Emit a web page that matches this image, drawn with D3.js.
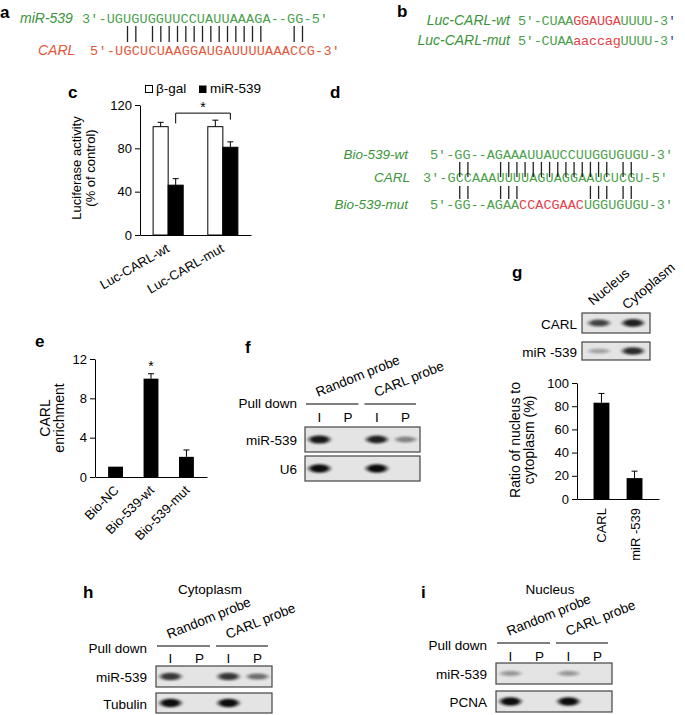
<!DOCTYPE html>
<html>
<head>
<meta charset="utf-8">
<script src="https://cdn.jsdelivr.net/npm/d3@7"></script>
<style>
  body { margin: 0; background: #fff; }
  svg { font-family: Arial, "Liberation Sans", sans-serif; }
</style>
</head>
<body>
<svg id="fig" width="685" height="715"></svg>
<script>
// ---------- data ----------
// panel a: miR-539 / CARL pairing
const seqAMiR = "3′-UGUGUGGUUCCUAUUAAAGA--GG-5′";
const seqACarl = "5′-UGCUCUAAGGAUGAUUUUAAACCG-3′";
const pairsA = [4, 5, 7, 8, 9, 10, 11, 12, 13, 14, 15, 16, 17, 18, 19, 20, 24, 25];

// panel b: luciferase constructs
const seqBWt = "5′-CUAAGGAUGAUUUU-3′";
const seqBMut = "5′-CUAAaaccagUUUU-3′";
const siteB = [7, 12];

// panel c: luciferase activity
const lucGroups = ["Luc-CARL-wt", "Luc-CARL-mut"];
const lucSeries = ["β-gal", "miR-539"];
const lucBgal = [100, 100];
const lucBgalErr = [4, 6];
const lucMiR = [46, 81];
const lucMiRErr = [6, 5];
const lucTicks = [0, 40, 80, 120];
const lucSig = { top: 112.5, legs: [103, 106.5] };

// panel d: biotin probes
const seqDWt = "5′-GG--AGAAAUUAUCCUUGGUGUGU-3′";
const seqDCarl = "3′-GCCAAAUUUUAGUAGGAAUCUCGU-5′";
const seqDMut = "5′-GG--AGAACCACGAACUGGUGUGU-3′";
const mutD = [11, 18];
const pairsDTop = [4, 5, 9, 10, 11, 12, 13, 14, 15, 16, 17, 18, 19, 20, 21, 22, 24, 25];
const pairsDBot = [4, 5, 9, 10, 11, 20, 21, 22, 24, 25];

// panel e: CARL enrichment
const bioCats = ["Bio-NC", "Bio-539-wt", "Bio-539-mut"];
const bioValues = [1.05, 10, 2.05];
const bioErr = [0, 0.5, 0.7];
const bioTicks = [0, 4, 8, 12];

// panel g: nucleus / cytoplasm
const fracLanes = ["Nucleus", "Cytoplasm"];
const locCats = ["CARL", "miR -539"];
const locValues = [83, 18];
const locErr = [8, 6];
const locTicks = [0, 20, 40, 60, 80, 100];

// blots: band intensity per lane (0 = none, 1 = saturated)
const laneLabels = ["I", "P", "I", "P"];
const probeLabels = ["Random probe", "CARL probe"];
const blotF = [
  { name: "miR-539", bands: [0.95, 0, 0.9, 0.45] },
  { name: "U6", bands: [1, 0, 1, 0] }
];
const blotG = [
  { name: "CARL", bands: [0.75, 0.9] },
  { name: "miR -539", bands: [0.3, 0.85] }
];
const blotH = [
  { name: "miR-539", bands: [0.8, 0, 0.8, 0.55] },
  { name: "Tubulin", bands: [1, 0, 1, 0] }
];
const blotI = [
  { name: "miR-539", bands: [0.35, 0, 0.35, 0] },
  { name: "PCNA", bands: [1, 0, 1, 0] }
];

// ---------- setup ----------
const svg = d3.select("#fig");
const defs = svg.append("defs");
defs.append("filter").attr("id", "band-blur")
  .attr("x", "-50%").attr("y", "-150%").attr("width", "200%").attr("height", "400%")
  .append("feGaussianBlur").attr("stdDeviation", "2 1.3");

const green = "#3a943a";
const seqGreen = "#4c9f4c";
const red = "#e5404a";
const orange = "#e2573a";
const mono = "'Liberation Mono', 'DejaVu Sans Mono', monospace";

function panelLabel(ch, x, y) {
  svg.append("text").attr("x", x).attr("y", y)
    .attr("font-size", 17).attr("font-weight", "bold").text(ch);
}

function label(txt, x, y, opts = {}) {
  return svg.append("text").attr("x", x).attr("y", y)
    .attr("font-size", opts.size || 13.5)
    .attr("font-style", opts.italic ? "italic" : null)
    .attr("text-anchor", opts.anchor || "start")
    .attr("fill", opts.color || "#000")
    .text(txt);
}

// one text per character so pair lines line up with the letters
function drawSeq(str, x0, x1, y, colorAt) {
  const chars = Array.from(str);
  const sx = d3.scaleBand().domain(d3.range(chars.length)).range([x0, x1]);
  svg.append("g").selectAll("text").data(chars).join("text")
    .attr("x", (d, i) => sx(i) + sx.bandwidth() / 2)
    .attr("y", y)
    .attr("text-anchor", "middle")
    .attr("font-family", mono)
    .attr("font-size", 13.5)
    .attr("fill", (d, i) => colorAt(i))
    .text(d => d);
  return sx;
}

function drawPairs(sx, idx, y1, y2) {
  svg.append("g").selectAll("line").data(idx).join("line")
    .attr("x1", i => sx(i) + sx.bandwidth() / 2)
    .attr("x2", i => sx(i) + sx.bandwidth() / 2)
    .attr("y1", y1).attr("y2", y2)
    .attr("stroke", "#222").attr("stroke-width", 1.3);
}

function styleAxis(g) {
  g.attr("font-family", "Arial, 'Liberation Sans', sans-serif").attr("font-size", 13);
  g.selectAll("path, line").attr("stroke", "#000").attr("stroke-width", 1);
  g.selectAll("text").attr("fill", "#000");
}

function errorBar(g, x, yTop, yEnd) {
  g.append("line").attr("x1", x).attr("x2", x).attr("y1", yTop).attr("y2", yEnd).attr("stroke", "#000");
  g.append("line").attr("x1", x - 3).attr("x2", x + 3).attr("y1", yEnd).attr("y2", yEnd).attr("stroke", "#000");
}

function drawBands(g, rows, lanes, x, w, rowY, rowH) {
  rows.forEach((r, k) => {
    g.append("rect").attr("x", x).attr("y", rowY[k]).attr("width", w).attr("height", rowH[k])
      .attr("fill", "#e4e4e4").attr("stroke", "#444").attr("stroke-width", 1.2);
    g.append("g").selectAll("ellipse").data(r.bands).join("ellipse")
      .attr("cx", (d, i) => lanes(i))
      .attr("cy", rowY[k] + rowH[k] / 2)
      .attr("rx", 10.5)
      .attr("ry", d => 1.8 + 2.4 * d)
      .attr("fill", "#111")
      .attr("opacity", d => d)
      .attr("filter", "url(#band-blur)");
  });
}

// ---------- a ----------
panelLabel("a", 0, 18);
label("miR-539", 20, 23, { italic: true, color: green, size: 14 });
drawSeq(seqAMiR, 82, 328, 23, () => seqGreen);
label("CARL", 38, 55, { italic: true, color: orange, size: 14 });
const sxA = drawSeq(seqACarl, 90, 340, 55, () => orange);
drawPairs(sxA, pairsA, 26, 42);

// ---------- b ----------
panelLabel("b", 397, 17);
label("Luc-CARL-wt", 510, 25, { italic: true, color: green, anchor: "end", size: 14 });
label("Luc-CARL-mut", 510, 45, { italic: true, color: green, anchor: "end", size: 14 });
[seqBWt, seqBMut].forEach((s, r) => {
  const n = Array.from(s).length;
  drawSeq(s, 518, 676, 25 + 20 * r, i =>
    i >= siteB[0] && i <= siteB[1] ? red : (i === n - 1 ? "#2a40a0" : seqGreen));
});

// ---------- c ----------
panelLabel("c", 68, 98);
const cX = d3.scaleBand().domain(lucGroups).range([140, 251]).paddingInner(0.45).paddingOuter(0.24);
const cSub = d3.scaleBand().domain(lucSeries).range([0, cX.bandwidth()]);
const cY = d3.scaleLinear().domain([0, 120]).range([235, 105]);
const cG = svg.append("g");
const lucRows = lucGroups.flatMap((g, i) => [
  { g, s: lucSeries[0], v: lucBgal[i], e: lucBgalErr[i] },
  { g, s: lucSeries[1], v: lucMiR[i], e: lucMiRErr[i] }
]);
lucRows.forEach(d => {
  const cx = cX(d.g) + cSub(d.s) + cSub.bandwidth() / 2;
  errorBar(cG, cx, cY(d.v), cY(d.v + d.e));
});
cG.selectAll("rect.bar").data(lucRows).join("rect").attr("class", "bar")
  .attr("x", d => cX(d.g) + cSub(d.s))
  .attr("y", d => cY(d.v))
  .attr("width", cSub.bandwidth())
  .attr("height", d => cY(0) - cY(d.v))
  .attr("fill", d => d.s === lucSeries[0] ? "#fff" : "#000")
  .attr("stroke", "#000").attr("stroke-width", 1);
cG.append("g").attr("transform", "translate(140,0)")
  .call(d3.axisLeft(cY).tickValues(lucTicks).tickSize(5).tickSizeOuter(0))
  .call(styleAxis);
cG.append("g").attr("transform", "translate(0,235)")
  .call(d3.axisBottom(cX).tickSize(0).tickSizeOuter(0))
  .call(styleAxis)
  .selectAll("text")
  .attr("x", 0).attr("y", 0).attr("dy", 0)
  .attr("text-anchor", "end")
  .attr("transform", "translate(2,16) rotate(-30)");
// significance bracket between the miR-539 bars
const sigX = lucGroups.map(g => cX(g) + cSub(lucSeries[1]) + cSub.bandwidth() / 2);
cG.append("path")
  .attr("d", `M${sigX[0]},${cY(lucSig.legs[0])}V${cY(lucSig.top)}H${sigX[1]}V${cY(lucSig.legs[1])}`)
  .attr("fill", "none").attr("stroke", "#000");
label("*", (sigX[0] + sigX[1]) / 2, cY(lucSig.top) - 1, { anchor: "middle", size: 14 });
// legend
cG.append("rect").attr("x", 145.5).attr("y", 85.5).attr("width", 7).attr("height", 7)
  .attr("fill", "#fff").attr("stroke", "#000");
label(lucSeries[0], 156, 93, { size: 13.5 });
cG.append("rect").attr("x", 199).attr("y", 85.5).attr("width", 7.5).attr("height", 7.5).attr("fill", "#000");
label(lucSeries[1], 210, 93, { size: 13.5 });
// y title
svg.append("text").attr("transform", "translate(81,168) rotate(-90)")
  .attr("text-anchor", "middle").attr("font-size", 13).text("Luciferase activity");
svg.append("text").attr("transform", "translate(95,168) rotate(-90)")
  .attr("text-anchor", "middle").attr("font-size", 13).text("(% of control)");

// ---------- d ----------
panelLabel("d", 330, 98);
label("Bio-539-wt", 408, 159, { italic: true, color: green, anchor: "end" });
label("CARL", 410, 182, { italic: true, color: green, anchor: "end" });
label("Bio-539-mut", 408, 209, { italic: true, color: green, anchor: "end" });
drawSeq(seqDWt, 430, 673, 159, () => seqGreen);
const sxD = drawSeq(seqDCarl, 423, 668, 182, () => seqGreen);
drawSeq(seqDMut, 430, 673, 209, i => i >= mutD[0] && i <= mutD[1] ? red : seqGreen);
drawPairs(sxD, pairsDTop, 162, 177);
drawPairs(sxD, pairsDBot, 186, 199);

// ---------- e ----------
panelLabel("e", 35, 347);
const eX = d3.scaleBand().domain(bioCats).range([95, 207]).paddingInner(0.58).paddingOuter(0.37);
const eY = d3.scaleLinear().domain([0, 12]).range([477, 359]);
const eG = svg.append("g");
bioCats.forEach((c, i) => {
  if (bioErr[i] > 0) errorBar(eG, eX(c) + eX.bandwidth() / 2, eY(bioValues[i]), eY(bioValues[i] + bioErr[i]));
});
eG.selectAll("rect").data(bioCats).join("rect")
  .attr("x", d => eX(d)).attr("width", eX.bandwidth())
  .attr("y", (d, i) => eY(bioValues[i]))
  .attr("height", (d, i) => eY(0) - eY(bioValues[i]))
  .attr("fill", "#000");
eG.append("g").attr("transform", "translate(95,0)")
  .call(d3.axisLeft(eY).tickValues(bioTicks).tickSize(5).tickSizeOuter(0))
  .call(styleAxis);
eG.append("g").attr("transform", "translate(0,477)")
  .call(d3.axisBottom(eX).tickSize(0).tickSizeOuter(0))
  .call(styleAxis)
  .selectAll("text")
  .attr("x", 0).attr("y", 0).attr("dy", 0)
  .attr("text-anchor", "end")
  .attr("transform", "translate(4,14) rotate(-45)");
label("*", eX(bioCats[1]) + eX.bandwidth() / 2, eY(bioValues[1] + bioErr[1]) - 3, { anchor: "middle", size: 14 });
svg.append("text").attr("transform", "translate(50,418) rotate(-90)")
  .attr("text-anchor", "middle").attr("font-size", 14).text("CARL");
svg.append("text").attr("transform", "translate(64,418) rotate(-90)")
  .attr("text-anchor", "middle").attr("font-size", 14).text("enrichment");

// ---------- pull-down blots (f, h, i) ----------
function drawPulldown(cfg, rows) {
  const g = svg.append("g");
  const lanes = d3.scalePoint().domain(d3.range(laneLabels.length))
    .range([cfg.x, cfg.x + cfg.w]).padding(0.5);
  const mid = cfg.x + cfg.w / 2;
  g.append("text").attr("x", cfg.labelX).attr("y", cfg.pullY)
    .attr("text-anchor", "end").attr("font-size", 13.5).text("Pull down");
  const segs = [[cfg.x + 1, mid - 4], [mid + 2, cfg.x + cfg.w - 4]];
  segs.forEach((s, i) => {
    g.append("line").attr("x1", s[0]).attr("x2", s[1]).attr("y1", cfg.lineY).attr("y2", cfg.lineY)
      .attr("stroke", "#000").attr("stroke-width", 1.2);
    g.append("text").attr("transform", `translate(${s[0] + 12},${cfg.lineY - 7}) rotate(-22)`)
      .attr("font-size", 13.5).text(probeLabels[i]);
  });
  g.selectAll("text.lane").data(laneLabels).join("text").attr("class", "lane")
    .attr("x", (d, i) => lanes(i)).attr("y", cfg.laneY)
    .attr("text-anchor", "middle").attr("font-size", 13.5).text(d => d);
  drawBands(g, rows, lanes, cfg.x, cfg.w, cfg.rowY, cfg.rowH);
  rows.forEach((r, k) => {
    g.append("text").attr("x", cfg.labelX).attr("y", cfg.rowY[k] + cfg.rowH[k] / 2 + 5.5)
      .attr("text-anchor", "end").attr("font-size", 13.5).text(r.name);
  });
}

panelLabel("f", 245, 353);
drawPulldown({ x: 305, w: 115, lineY: 404, laneY: 422, pullY: 408, labelX: 297,
  rowY: [427, 456], rowH: [25, 25] }, blotF);

panelLabel("h", 83, 598);
label("Cytoplasm", 210, 594, { anchor: "middle" });
drawPulldown({ x: 156, w: 116, lineY: 646, laneY: 663, pullY: 653, labelX: 147,
  rowY: [666, 693], rowH: [21, 20] }, blotH);

panelLabel("i", 421, 598);
label("Nucleus", 550, 594, { anchor: "middle" });
drawPulldown({ x: 496, w: 116, lineY: 643, laneY: 661, pullY: 650, labelX: 487,
  rowY: [663, 691], rowH: [21, 21] }, blotI);

// ---------- g ----------
panelLabel("g", 512, 278);
const gLanes = d3.scalePoint().domain(d3.range(fracLanes.length)).range([582, 650]).padding(0.5);
const gBlot = svg.append("g");
fracLanes.forEach((f, i) => {
  gBlot.append("text").attr("transform", `translate(${gLanes(i) - 6},${306 + 4 * i}) rotate(-40)`)
    .attr("font-size", 13.5).text(f);
});
drawBands(gBlot, blotG, gLanes, 582, 68, [313, 342], [20, 18]);
blotG.forEach((r, k) => {
  gBlot.append("text").attr("x", 577).attr("y", [313, 342][k] + [20, 18][k] / 2 + 5.5)
    .attr("text-anchor", "end").attr("font-size", 13.5).text(r.name);
});

const gX = d3.scaleBand().domain(locCats).range([577, 659]).paddingInner(0.52).paddingOuter(0.5);
const gY = d3.scaleLinear().domain([0, 100]).range([499, 383]);
const gG = svg.append("g");
locCats.forEach((c, i) => {
  errorBar(gG, gX(c) + gX.bandwidth() / 2, gY(locValues[i]), gY(locValues[i] + locErr[i]));
});
gG.selectAll("rect").data(locCats).join("rect")
  .attr("x", d => gX(d)).attr("width", gX.bandwidth())
  .attr("y", (d, i) => gY(locValues[i]))
  .attr("height", (d, i) => gY(0) - gY(locValues[i]))
  .attr("fill", "#000");
gG.append("g").attr("transform", "translate(577,0)")
  .call(d3.axisLeft(gY).tickValues(locTicks).tickSize(5).tickSizeOuter(0))
  .call(styleAxis);
gG.append("g").attr("transform", "translate(0,499)")
  .call(d3.axisBottom(gX).tickSize(0).tickSizeOuter(0))
  .call(styleAxis)
  .selectAll("text")
  .attr("x", 0).attr("y", 0).attr("dy", 0)
  .attr("text-anchor", "end")
  .attr("transform", "translate(5,9) rotate(-90)");
svg.append("text").attr("transform", "translate(520,440) rotate(-90)")
  .attr("text-anchor", "middle").attr("font-size", 14).text("Ratio of nucleus to");
svg.append("text").attr("transform", "translate(534,440) rotate(-90)")
  .attr("text-anchor", "middle").attr("font-size", 14).text("cytoplasm (%)");
</script>
</body>
</html>
